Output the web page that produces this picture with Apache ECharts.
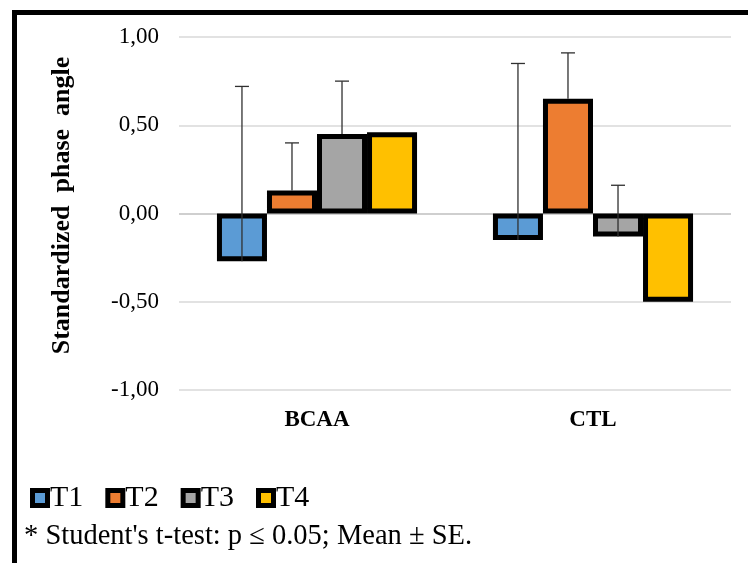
<!DOCTYPE html>
<html>
<head>
<meta charset="utf-8">
<script src="https://cdn.jsdelivr.net/npm/echarts@6/dist/echarts.min.js"></script>
<style>
html,body{margin:0;padding:0;background:#fff;}
#chart{width:748px;height:563px;}
</style>
</head>
<body>
<div id="chart"></div>
<script>
const categories = ['BCAA', 'CTL'];
const seriesNames = ['T1', 'T2', 'T3', 'T4'];
const t1 = [-0.27, -0.15];
const t2 = [0.13, 0.65];
const t3 = [0.45, -0.13];
const t4 = [0.46, -0.50];
const se1 = [0.99, 1.00];
const se2 = [0.27, 0.26];
const se3 = [0.30, 0.29];
const se4 = [null, null];
const yTicks = [-1, -0.5, 0, 0.5, 1];

const values = [t1, t2, t3, t4];
const errors = [se1, se2, se3, se4];
const colors = ['#5b9bd5', '#ed7d31', '#a5a5a5', '#ffc000'];
const gapRatio = 0.275;
const serif = '"Liberation Serif", "Times New Roman", serif';

const chart = echarts.init(document.getElementById('chart'));

function errSeries(si) {
  return {
    type: 'custom',
    z: 10,
    silent: true,
    renderItem: function (params, api) {
      const ci = api.value(0), v = api.value(1), e = api.value(2);
      if (e === null || e === undefined || isNaN(e)) return null;
      const band = api.size([1, 0])[0];
      const bw = band * (1 - gapRatio) / 4;
      const off = (si - 1.5) * bw;
      const p0 = api.coord([ci, v]);
      const p1 = api.coord([ci, v + e]);
      const x = p0[0] + off;
      const st = { stroke: '#303030', lineWidth: 1.3 };
      return {
        type: 'group',
        children: [
          { type: 'line', shape: { x1: x, y1: p0[1], x2: x, y2: p1[1] }, style: st },
          { type: 'line', shape: { x1: x - 7, y1: p1[1], x2: x + 7, y2: p1[1] }, style: st }
        ]
      };
    },
    data: categories.map((c, j) => [j, values[si][j], errors[si][j]])
  };
}

const barSeries = seriesNames.map((n, i) => ({
  name: n,
  type: 'bar',
  data: values[i],
  barGap: '0%',
  barCategoryGap: (gapRatio * 100) + '%',
  itemStyle: { color: colors[i], borderColor: '#000', borderWidth: 5 }
}));

const legendRich = { t: { fontFamily: serif, fontSize: 30, color: '#000', verticalAlign: 'middle', padding: [0, 0, 0, 5] } };
seriesNames.forEach((n, i) => {
  legendRich['b' + i] = {
    width: 10, height: 10, backgroundColor: colors[i],
    borderColor: '#000', borderWidth: 5, borderRadius: 0, verticalAlign: 'middle'
  };
});

const option = {
  animation: false,
  backgroundColor: '#fff',
  grid: { left: 179, right: 17, top: 37, bottom: 173, containLabel: false },
  legend: {
    data: seriesNames,
    left: 25,
    top: 478,
    icon: 'rect',
    itemWidth: 0,
    itemHeight: 0,
    itemGap: 22,
    itemStyle: { opacity: 0, borderWidth: 0 },
    formatter: name => '{b' + seriesNames.indexOf(name) + '|}{t|' + name + '}',
    textStyle: { fontFamily: serif, fontSize: 30, color: '#000', rich: legendRich }
  },
  xAxis: {
    type: 'category',
    data: categories,
    axisLine: { show: false, onZero: false },
    axisTick: { show: false },
    axisLabel: { margin: 19, fontFamily: serif, fontWeight: 'bold', fontSize: 23, color: '#000' }
  },
  yAxis: {
    type: 'value',
    min: yTicks[0],
    max: yTicks[yTicks.length - 1],
    interval: 0.5,
    name: 'Standardized  phase  angle',
    nameLocation: 'middle',
    nameGap: 104,
    nameTextStyle: { fontFamily: serif, fontWeight: 'bold', fontSize: 26, color: '#000', padding: [0, 0, 0, 16] },
    axisLine: { show: false },
    axisTick: { show: false },
    axisLabel: {
      margin: 20,
      fontFamily: serif,
      fontSize: 23,
      color: '#000',
      formatter: v => v.toFixed(2).replace('.', ',')
    },
    splitLine: { lineStyle: { color: ['#d9d9d9', '#d9d9d9', '#bfbfbf', '#d9d9d9', '#d9d9d9'], width: 1.5 } }
  },
  series: barSeries.concat(seriesNames.map((n, i) => errSeries(i))),
  graphic: [
    { type: 'rect', shape: { x: 12, y: 10, width: 5, height: 560 }, style: { fill: '#000' }, silent: true },
    { type: 'rect', shape: { x: 12, y: 10, width: 740, height: 5 }, style: { fill: '#000' }, silent: true },
    {
      type: 'text', left: 24, top: 522, silent: true,
      style: { text: "* Student's t-test: p \u2264 0.05; Mean \u00b1 SE.", font: '28.5px ' + serif, fill: '#000' }
    }
  ]
};
chart.setOption(option);
</script>
</body>
</html>
